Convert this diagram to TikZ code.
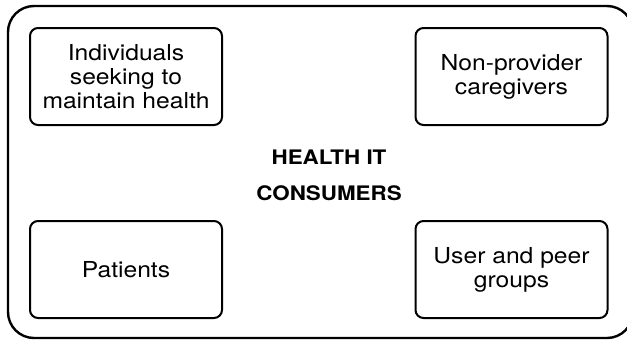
\documentclass[tikz,border=0pt]{standalone}
\usepackage{fontspec}
\setmainfont{TeX Gyre Heros}[FakeStretch=1.12]
\usetikzlibrary{positioning}

\tikzset{
    outer/.style={draw, line width=2.4pt, rounded corners=26pt},
    group/.style={draw, line width=2pt, rounded corners=8pt, align=center,
        minimum width=192pt, minimum height=97pt, inner sep=0pt,
        font=\fontsize{22}{24}\selectfont},
    hub/.style={align=center, font=\fontsize{20}{36}\selectfont\bfseries}
}

\begin{document}
\begin{tikzpicture}[x=1pt, y=-1pt]
        \useasboundingbox (0,0) rectangle (627,341);
        \begin{scope}
        \clip (0,0) rectangle (627,341);
        \draw[outer] (8,6) rectangle (633,338);
        \end{scope}

        \node[group] (ind) at (126,76.5) {Individuals\\seeking to\\maintain health};
        \node[group] (care) [right of=ind, node distance=385.5pt] {Non-provider\\caregivers};
        \node[group] (pat) [below of=ind, node distance=193pt] {Patients};
        \node[group] (peer) [below of=care, node distance=193pt] {User and peer\\groups};

        \node[hub] (hit) at (329,175) {HEALTH IT\\CONSUMERS};
    \end{tikzpicture}
\end{document}
